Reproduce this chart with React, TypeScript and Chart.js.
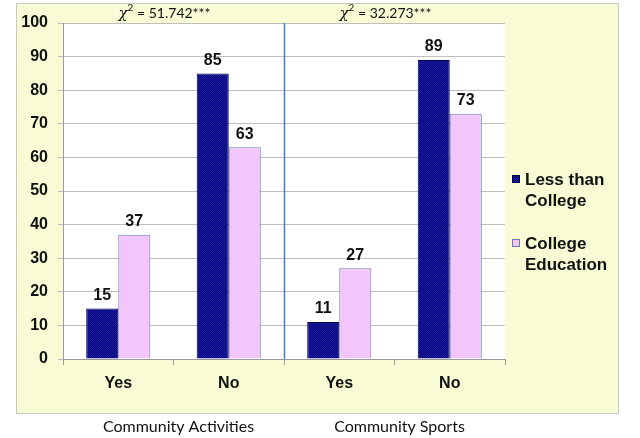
import React, { useEffect, useRef } from "react";
import { Chart, registerables } from "chart.js";

Chart.register(...registerables);

const categories = ["Yes", "No", "Yes", "No"];
const groupLabels = ["Community Activities", "Community Sports"];
const chiLabels = ["51.742***", "32.273***"];
const seriesNames = [["Less than", "College"], ["College", "Education"]];
const lessThanCollege = [15, 85, 11, 89];
const collegeEducation = [37, 63, 27, 73];
const yTicksMax = 100;
const yStep = 10;

const BOX = { x: 16, y: 3, w: 602, h: 410 };
const ARIAL = "'Liberation Sans', Arial, sans-serif";
const CAL = "Lato, 'Open Sans', sans-serif";

function makeNavyPattern(): CanvasPattern | string {
  const c = document.createElement("canvas");
  c.width = 2;
  c.height = 2;
  const g = c.getContext("2d");
  if (!g) return "#0A0A84";
  g.fillStyle = "#08087A";
  g.fillRect(0, 0, 2, 2);
  g.fillStyle = "#1A1AA0";
  g.fillRect(0, 0, 1, 1);
  g.fillRect(1, 1, 1, 1);
  const p = g.createPattern(c, "repeat");
  return p || "#0A0A84";
}

const decorPlugin = {
  id: "decor",
  beforeDraw(chart: any) {
    const { ctx, chartArea } = chart;
    ctx.save();
    ctx.fillStyle = "#ffffff";
    ctx.fillRect(0, 0, chart.width, chart.height);
    ctx.fillStyle = "#F9FBD5";
    ctx.fillRect(BOX.x, BOX.y, BOX.w, BOX.h);
    ctx.strokeStyle = "#C8C8C8";
    ctx.lineWidth = 1;
    ctx.strokeRect(BOX.x + 0.5, BOX.y + 0.5, BOX.w, BOX.h);
    ctx.fillStyle = "#ffffff";
    ctx.fillRect(chartArea.left, chartArea.top, chartArea.right - chartArea.left, chartArea.bottom - chartArea.top);
    ctx.restore();
  },
  afterDraw(chart: any) {
    const { ctx, chartArea, scales } = chart;
    const x = scales.x;
    ctx.save();
    const sepX = Math.round((x.getPixelForValue(1) + x.getPixelForValue(2)) / 2) + 0.5;
    ctx.strokeStyle = "#4A7EBB";
    ctx.lineWidth = 1.5;
    ctx.beginPath();
    ctx.moveTo(sepX, chartArea.top);
    ctx.lineTo(sepX, chartArea.bottom);
    ctx.stroke();

    ctx.fillStyle = "#111111";
    ctx.font = `bold 16px ${ARIAL}`;
    ctx.textAlign = "center";
    ctx.textBaseline = "bottom";
    chart.data.datasets.forEach((ds: any, di: number) => {
      const meta = chart.getDatasetMeta(di);
      meta.data.forEach((bar: any, i: number) => {
        ctx.fillText(String(ds.data[i]), bar.x, bar.y - 5);
      });
    });

    ctx.textBaseline = "alphabetic";
    for (let g = 0; g < 2; g++) {
      const cx = (x.getPixelForValue(g * 2) + x.getPixelForValue(g * 2 + 1)) / 2;
      const main = " = " + chiLabels[g];
      ctx.font = "italic 15px 'DejaVu Serif', serif";
      const wChi = ctx.measureText("χ").width;
      ctx.font = `10px ${CAL}`;
      const wSup = ctx.measureText("2").width;
      ctx.font = `14px ${CAL}`;
      const wMain = ctx.measureText(main).width;
      let sx = cx - 9 - (wChi + wSup + wMain) / 2;
      const by = 18;
      ctx.textAlign = "left";
      ctx.font = "italic 15px 'DejaVu Serif', serif";
      ctx.fillText("χ", sx, by);
      sx += wChi;
      ctx.font = `10px ${CAL}`;
      ctx.fillText("2", sx, by - 7);
      sx += wSup;
      ctx.font = `14px ${CAL}`;
      ctx.fillText(main, sx, by);

      ctx.textAlign = "center";
      ctx.font = `16px ${CAL}`;
      ctx.fillText(groupLabels[g], cx + 5, 432);
    }

    const items = [
      { lines: seriesNames[0], fill: chart.data.datasets[0].backgroundColor, stroke: "#000050", y: 179 },
      { lines: seriesNames[1], fill: "#F2C6FA", stroke: "#6F7FB5", y: 243 },
    ];
    items.forEach((it) => {
      ctx.fillStyle = it.fill;
      ctx.fillRect(512, it.y - 4, 8, 8);
      ctx.strokeStyle = it.stroke;
      ctx.lineWidth = 1;
      ctx.strokeRect(512.5, it.y - 3.5, 7, 7);
      ctx.fillStyle = "#111111";
      ctx.font = `bold 17px ${ARIAL}`;
      ctx.textAlign = "left";
      ctx.textBaseline = "middle";
      it.lines.forEach((ln, li) => ctx.fillText(ln, 525, it.y + 1 + li * 21));
    });
    ctx.restore();
  },
};

export default function App() {
  const ref = useRef<HTMLCanvasElement | null>(null);
  useEffect(() => {
    if (!ref.current) return;
    const navy = makeNavyPattern();
    const chart = new Chart(ref.current, {
      type: "bar",
      data: {
        labels: categories,
        datasets: [
          {
            label: seriesNames[0].join(" "),
            data: lessThanCollege,
            backgroundColor: navy as any,
            borderColor: "#000050",
            borderWidth: 1,
          },
          {
            label: seriesNames[1].join(" "),
            data: collegeEducation,
            backgroundColor: "#F2C6FA",
            borderColor: "#6F7FB5",
            borderWidth: 1,
          },
        ],
      },
      options: {
        responsive: false,
        animation: false,
        events: [],
        layout: { padding: { left: 14, top: 23, right: 135, bottom: 39 } },
        datasets: { bar: { categoryPercentage: 0.58, barPercentage: 1 } },
        plugins: { legend: { display: false }, tooltip: { enabled: false } },
        scales: {
          x: {
            grid: { offset: true, drawOnChartArea: false, drawTicks: true, tickLength: 6, color: "#999999" },
            border: { color: "#999999" },
            ticks: {
              color: "#111111",
              padding: 9,
              font: { family: ARIAL, size: 16, weight: "bold" },
            },
            afterFit(scale: any) {
              scale.height = 40;
            },
          },
          y: {
            min: 0,
            max: yTicksMax,
            ticks: {
              stepSize: yStep,
              color: "#111111",
              padding: 10,
              font: { family: ARIAL, size: 16, weight: "bold" },
            },
            grid: { color: "#BEBEBE", tickLength: 5 },
            border: { color: "#999999" },
            afterFit(scale: any) {
              scale.width = 49;
            },
          },
        },
      },
      plugins: [decorPlugin],
    });
    return () => chart.destroy();
  }, []);
  return (
    <div style={{ position: "fixed", left: 0, top: 0, width: 640, height: 438 }}>
      <canvas ref={ref} width={640} height={438} />
    </div>
  );
}
